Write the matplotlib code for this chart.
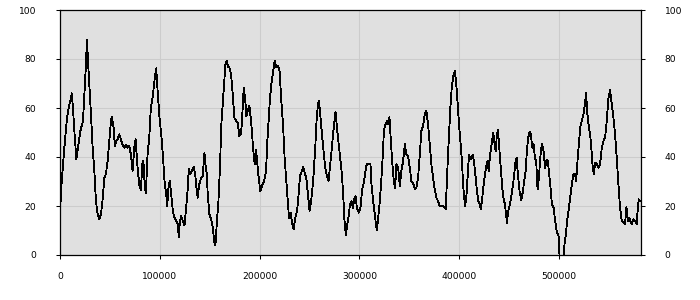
import numpy as np
import matplotlib.pyplot as plt

# series (x in thousands, y in percent)
x_k = [0, 0.4, 1.7, 4.4, 7, 9.4, 11, 11.7, 12.7, 14.4, 16.4, 18.4, 20.4, 21.7, 23, 24.4, 26, 27,
       28.4, 29.7, 31, 32.7, 34.4, 36, 37.7, 39.4, 41, 42.7, 44.4, 46, 47.7, 49.4, 51, 52, 53.7,
       55, 56.4, 57.7, 59.4, 61, 62.7, 64.4, 66, 67.7, 69.4, 71, 72.7, 74.4, 75.7, 77.7, 79.4,
       81, 82.7, 83.7, 85, 86, 87.7, 89.4, 91, 92.7, 95, 96.4,
       98, 99.7, 101.4, 103, 104.7, 106.4, 107.4, 108.7, 110, 111.4, 113, 114.7, 116.4, 118,
       119, 120, 121.4, 123, 124.7, 126.4, 128, 129, 130.4, 132, 134, 135.4, 136.7, 138, 139.4,
       141.4, 143, 144.7, 145.7, 147, 148, 149.7, 151.4, 153, 154.7, 155.7, 157, 158.7, 160.4,
       161.4, 163, 164.7, 165.7, 167, 168.4, 169.7, 171.4, 173, 174.7, 176.4, 178, 179.7, 181.4,
       183, 184, 185.4, 186.7, 188, 189.7, 191.4,
       193.4, 195, 196.4, 197.7, 199, 200.7, 202.4, 204.4, 206.4, 207.7, 209, 210.4, 211.7,
       213.4, 215, 216.7, 218.4, 220, 221.7, 223.4, 225, 226.7, 228.4, 229.4, 231, 232.7, 234,
       235.7, 237.7, 239, 240.4, 241.7, 243.7, 245, 246.7, 248.4, 250, 251, 252.4, 254, 255.7,
       257, 258.4, 259.4, 260.7, 262.4, 264, 265.7, 267.4, 269, 270.7, 272, 273.7, 275, 276,
       277.4, 279, 280.7, 282.4, 284, 285, 286.4, 287.7, 289.4,
       290.4, 292, 293.4, 294.7, 296, 297.4, 299.4, 301, 302.7, 304.4, 306, 307.4, 309.4, 311,
       312, 313.7, 315.4, 316.7, 317.4, 318.7, 320.4, 322, 323.4, 324.4, 326, 327.7, 328.7, 330,
       331.4, 333, 334.4, 335.7, 337, 338.7, 340.4, 342, 343.7, 345.4, 347, 348.7, 350.4, 352,
       353.7, 355.4, 357, 358.7, 360.4, 362, 363.7, 365.4, 367, 368.7, 370.4, 372, 373.7, 375.4,
       377, 378.7, 380.4, 383, 385.4, 386.4,
       388.4, 389.7, 391, 392.4, 394, 395.4, 396.7, 398.4, 399.7, 401, 402.4, 404, 405.7, 407,
       408.4, 409.7, 411, 412.4, 413.7, 415, 416.4, 417.7, 419, 420.4, 421.7, 423, 424.4, 425.7,
       427, 428.4, 429.4, 430.7, 432.4, 434, 435, 436.4, 437.7, 438.7, 440, 441.4, 443, 444.4,
       445.7, 447, 447.7, 449, 450.7, 452.4, 454, 455, 456.4, 457.4, 458.7, 460.4, 462, 463.7,
       465, 466.4, 467.7, 469, 470.4, 471.7, 473, 474.4, 475.7, 477, 478.4, 479.7, 481.4, 482.7,
       484,
       486, 487.4, 488.7, 490, 491.4, 492.7, 494.4, 496, 497.7, 499.4, 500.7, 502.7, 504, 505.4,
       506.7, 508, 509.4, 511, 512.7, 514.4, 516, 517, 518.4, 520, 521.4, 522.7, 524.4, 526, 527,
       528, 529.4, 531, 532, 533.4, 534.7, 536, 537.7, 539.4, 541, 542.7, 544.4, 546, 547.7,
       549.4, 551, 552.7, 554.4, 556, 557.7, 559.4, 561, 562.7, 564.4, 566, 567.4, 568.7, 570,
       571.4, 572.7, 574.4, 576, 577.7, 578.7, 579.7, 581]

y_val = [20, 20.7, 30, 44, 56, 61.5, 64, 66, 61.5, 50.6, 39, 45, 50.6, 52.7, 54.7, 65.6, 77.8, 88,
         76.5, 67, 57.4, 43.8, 34.3, 22, 16.6, 14.6, 16.6, 22.7, 31.6, 33, 38.4, 46.5, 54.7, 56.3,
         52, 44.5, 46.5, 47.2, 49.3, 47.2, 45, 43.8, 45, 43.8, 44.5, 41, 34.3, 43.8, 47.2, 35.6,
         28.8, 26.4, 38.4, 37, 27.5, 25.4, 41, 47.9, 60, 64, 72.4, 76.2,
         65.6, 56, 49.3, 41, 30.2, 24.8, 20, 27.5, 30.2, 24.8, 18, 15.2, 13.9, 12.5,
         7.3, 13.2, 16, 13.9, 12.2, 19.3, 27.5, 35, 33, 34.3, 36, 33, 27.5, 23.4, 28.8,
         31.6, 32.2, 41.8, 37, 33, 24.8, 16.6, 14.6, 11.2, 5, 4, 12.5, 22, 37,
         52, 61.5, 71, 77.8, 79.2, 76.7, 76.5, 73.7, 65.6, 56, 54.7, 54, 48.6, 49.3,
         60, 68.3, 64.2, 56.7, 58.8, 60.8, 54.7,
         43.8, 37, 43.1, 37, 31.6, 26, 28.2, 30.2, 34.3, 46.5, 54.7, 64.2, 69.7,
         74.4, 79.2, 76.7, 77.1, 75, 62.9, 53.3, 39.7, 30.2, 20.7, 15.2, 17.3, 12.5, 10.5,
         15.2, 18.6, 24.8, 32.2, 33.6, 36, 33.6, 31.6, 24.8, 18, 20.7, 24.8, 32.9, 43.8,
         54.7, 61.5, 63.1, 57.4, 49.3, 42.4, 35.6, 32.2, 30.2, 37, 42.4, 50, 54.7, 58.5,
         52, 45.9, 39.7, 32.9, 22, 13.9, 8.2, 12.5, 16.6,
         20.7, 22, 19.3, 22.7, 24.1, 19.3, 17.3, 19.3, 26.8, 29.5, 34.3, 37.3, 37.3, 37,
         28.8, 22, 16, 11.8, 10, 15.2, 22, 31.6, 41, 50.6, 53.3, 54.7, 53.3, 56.3,
         46.5, 37, 30.2, 27.5, 37, 35.6, 28.2, 34.3, 38.4, 45.2, 41, 40.4, 35.6, 30.2,
         29.5, 26.8, 27.5, 31.6, 41, 50.6, 52.7, 57.4, 59, 53.3, 45.2, 37, 31.6, 26.8,
         23.4, 22, 20, 20, 19.3, 18.6,
         38.4, 49.3, 60, 68.3, 73, 75.1, 71, 61.5, 53.3, 46.5, 39.7, 27.5, 20, 23.4,
         32.9, 41, 39, 39.7, 41, 37, 31.6, 26, 22, 20.7, 18.6, 23.4, 28.8, 32.9,
         36.3, 38.4, 34.3, 40.4, 45.2, 50, 46.5, 42.4, 49.3, 50.9, 43.8, 35.6, 27.5, 22.7,
         20.7, 15.9, 13.2, 18, 20.7, 24.8, 29.5, 32.9, 38.4, 39.7, 32.9, 26, 22.3, 26,
         30.2, 34.3, 42.4, 47.9, 50.3, 49.3, 43.8, 45.2, 39.7, 38.4, 26.8, 31.6, 41, 45.2,
         43.8,
         35.6, 39, 38.4, 32.9, 27.5, 20.7, 19.3, 13.9, 9.1, 7.8, -3, -3, -3, 4.4,
         8.4, 13.9, 18, 23.4, 28.8, 32.9, 32.9, 30.2, 38.4, 46.5, 52.7, 54.7, 57.4, 62.2, 66.3,
         58.8, 53.3, 49.3, 45.2, 37, 32.9, 37.7, 37, 35.6, 37, 43.8, 46.5, 47.9, 54.7,
         64.2, 67.2, 61.5, 56, 49.3, 39.7, 28.8, 19.3, 13.9, 13.2, 12.5, 19.6, 13.9, 15.2,
         13.9, 12.5, 14.6, 13.9, 12.5, 18.6, 22.7, 22]

x_ticks = [0, 100000, 200000, 300000, 400000, 500000]
y_ticks = [0, 20, 40, 60, 80, 100]

x = np.array(x_k) * 1000
y = np.array(y_val)

fig = plt.figure(figsize=(7, 3), dpi=100)
ax = fig.add_axes([60 / 700, 45 / 300, 581 / 700, 245 / 300])
ax.set_facecolor('#e0e0e0')

ax.plot(x, y, color='black', lw=0.6, antialiased=False)

ax.set_xlim(0, 582000)
ax.set_ylim(0, 100)
ax.set_xticks(x_ticks)
ax.set_yticks(y_ticks)
ax.grid(True, color='#cccccc', lw=0.75)
ax.set_axisbelow(True)

for s in ax.spines.values():
    s.set_color('black')
    s.set_linewidth(0.9)

ax.tick_params(axis='x', direction='out', length=3, width=0.75, pad=9, labelsize=6.6)
ax.tick_params(axis='y', direction='out', length=3, width=0.75, labelsize=6.6,
               left=True, right=True, labelleft=True, labelright=True, pad=14)

fig.savefig('out.png', dpi=100)
